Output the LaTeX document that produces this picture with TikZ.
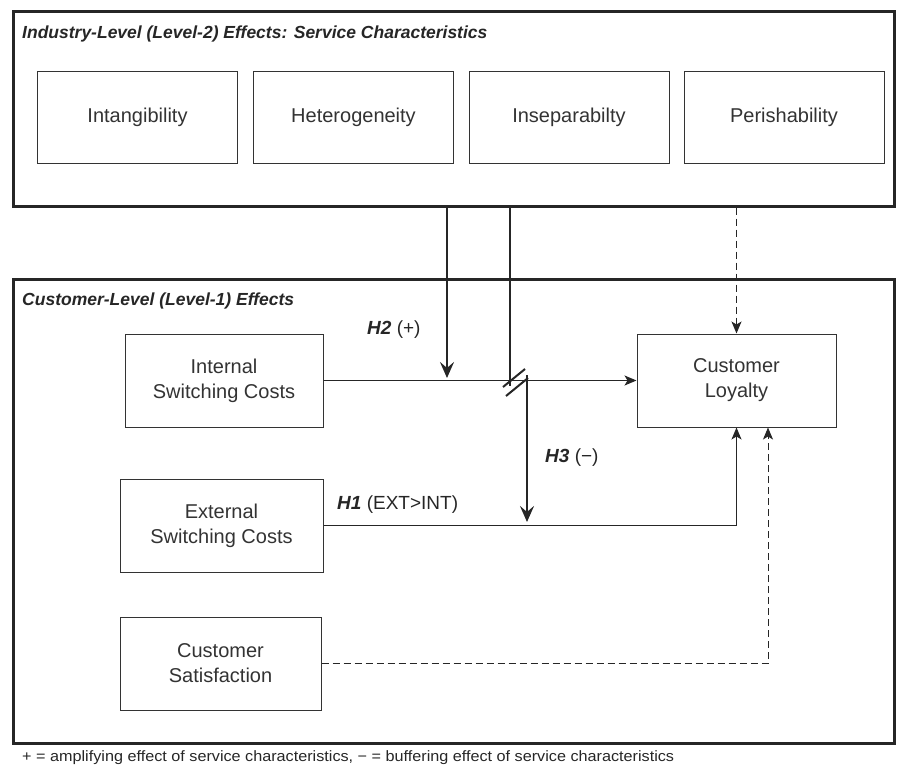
\documentclass[tikz,border=0pt]{standalone}
\usepackage{fontspec}
\setmainfont{Liberation Sans}
\usetikzlibrary{arrows.meta,positioning}
\begin{document}
\begin{tikzpicture}[x=1pt,y=-1pt,
 outerbox/.style={draw=black!85,line width=2.6pt,minimum width=881pt,anchor=north west,inner sep=0pt},
 box/.style={draw=black!80,line width=1pt,minimum width=200pt,minimum height=92pt,align=center,font=\fontsize{20}{25}\selectfont,inner sep=0pt,text=black!80},
 thickarrow/.style={draw=black!85,line width=2.6pt,-{Stealth[length=16pt,width=14pt,inset=6pt]}},
 thickline/.style={draw=black!85,line width=2.6pt},
 slash/.style={draw=black!85,line width=2pt},
 thinarrow/.style={draw=black!85,line width=1pt,-{Stealth[length=12pt,width=10pt,inset=3pt]}},
 dasharrow/.style={thinarrow,dash pattern=on 7pt off 4pt},
 hdr/.style={anchor=west,font=\fontsize{17.5}{20}\selectfont\bfseries\itshape,inner sep=0pt,text=black!85},
 hyp/.style={anchor=west,font=\fontsize{19}{22}\selectfont,inner sep=0pt,text=black!85}]
\useasboundingbox (0,0) rectangle (897,771);
\node[outerbox,minimum height=195pt] (ind) at (12,10) {};
\node[outerbox,minimum height=464pt] (cus) at (12,278) {};
\node[hdr] (indh) at (22,34) {Industry-Level (Level-2) Effects: Service Characteristics};
\node[hdr] (cush) at (22,301) {Customer-Level (Level-1) Effects};
\node[box] (intang) at (137.5,117.5) {Intangibility};
\node[box] (hetero) at (353.5,117.5) {Heterogeneity};
\node[box] (insep) at (569,117.5) {Inseparabilty};
\node[box] (perish) at (784,117.5) {Perishability};
\node[box,minimum width=198pt,minimum height=93pt] (internal) at (224,380.5) {Internal\\Switching Costs};
\node[box,minimum width=199pt,minimum height=93pt] (loyal) at (736.5,380.5) {Customer\\Loyalty};
\node[box,minimum width=203pt,minimum height=93pt] (external) at (221.5,525.5) {External\\Switching Costs};
\node[box,minimum width=201pt,minimum height=93pt] (satisf) at (220.5,663.5) {Customer\\Satisfaction};
% thin connectors
\draw[thinarrow] (internal.east) -- (loyal.west);
\draw[thinarrow] (external.east) -| (loyal.south);
\coordinate (satcorner) at (768,663.5);
\draw[dasharrow] (satisf.east) -- (satcorner) -- (satcorner |- loyal.south);
\draw[dasharrow] (ind.south -| loyal.north) -- (loyal.north);
% H2
\coordinate (h2end) at (447,378);
\draw[thickarrow] (ind.south -| h2end) -- (h2end);
% H3 with break
\coordinate (brkA) at (510,386);
\coordinate (brkB) at (527,375);
\coordinate (h3end) at (527,522);
\draw[thickline] (ind.south -| brkA) -- (brkA);
\draw[thickarrow] (brkB) -- (h3end);
\draw[slash] (503,387) -- (525,369);
\draw[slash] (506,396) -- (528,378);
% labels
\node[hyp] (h2l) at (367,330) {\textbf{\textit{H2}} (+)};
\node[hyp] (h3l) at (545,458) {\textbf{\textit{H3}} (−)};
\node[hyp] (h1l) at (337,505) {\textbf{\textit{H1}} (EXT>INT)};
\node[anchor=west,inner sep=0pt,font=\fontsize{15}{17}\selectfont,text=black!85,xscale=1.08] (note) at (22,758) {+ = amplifying effect of service characteristics, − = buffering effect of service characteristics};
\end{tikzpicture}
\end{document}
